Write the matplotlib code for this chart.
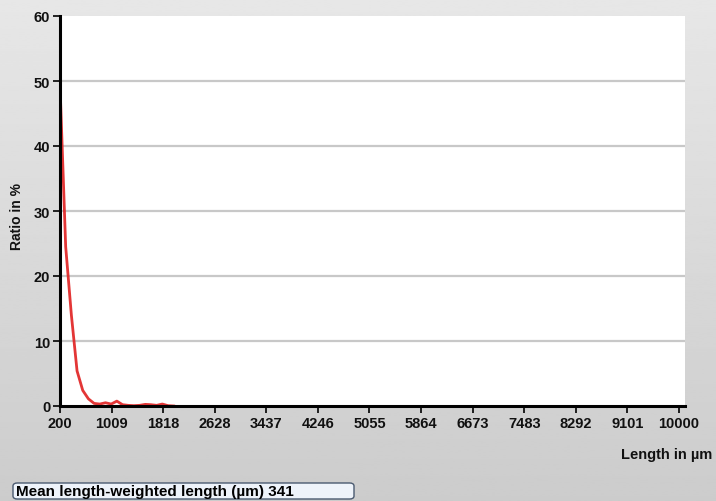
''' Length distribution chart: ratio (%) vs fibre length (um). '''
import numpy as np
import matplotlib
matplotlib.use('Agg')
import matplotlib.pyplot as plt
from matplotlib.patches import FancyBboxPatch

# ---------------- data ----------------
lengths = [210, 290, 380, 470, 560, 650, 740, 830, 920, 1010, 1100, 1190,
           1280, 1370, 1460, 1550, 1640, 1730, 1820, 1910, 2000]
ratio = [46.6, 24.5, 14.0, 5.4, 2.4, 1.1, 0.4, 0.3, 0.5, 0.3, 0.75, 0.2,
         0.1, 0.05, 0.1, 0.25, 0.2, 0.1, 0.3, 0.05, 0.0]
tick_labels = ['200', '1009', '1818', '2628', '3437', '4246', '5055', '5864',
               '6673', '7483', '8292', '9101', '10000']
y_ticks = [0, 10, 20, 30, 40, 50, 60]
mean_weighted = 341

plt.rcParams['font.family'] = ['Liberation Sans', 'DejaVu Sans']
plt.rcParams['font.weight'] = 'bold'

W, H = 716, 502
fig = plt.figure(figsize=(W / 100, H / 100), dpi=100)

# gray gradient background
bg = fig.add_axes([0, 0, 1, 1], zorder=-10)
grad = np.linspace(0.905, 0.80, 256).reshape(-1, 1)
bg.imshow(grad, aspect='auto', cmap='gray', vmin=0, vmax=1,
          extent=[0, 1, 0, 1], origin='upper')
bg.set_axis_off()

ax = fig.add_axes([60 / W, (H - 407) / H, (685 - 60) / W, (407 - 17) / H])
ax.set_facecolor('white')

tick_pos = np.linspace(200, 10000, len(tick_labels))
px_per_um = (679 - 60.5) / 9800
ax.set_xlim(200, 10000 + 6 / px_per_um)
ax.set_ylim(0, 60)

for y in y_ticks[1:-1]:
    ax.axhline(y, color='#c8c8c8', lw=1.6, zorder=1)

ax.plot(lengths, ratio, color='#e02020', lw=2.0, alpha=0.9, zorder=3,
        solid_joinstyle='round', clip_on=True)

ax.set_xticks(tick_pos)
ax.set_xticklabels(tick_labels)
ax.set_yticks(y_ticks)
ax.tick_params(axis='both', direction='out', length=5, width=1.2,
               color='black', labelsize=10.5, pad=2)
for lab in ax.get_xticklabels() + ax.get_yticklabels():
    lab.set_fontweight('bold')
    lab.set_color('#111111')

for side in ('top', 'right'):
    ax.spines[side].set_visible(False)
for side in ('left', 'bottom'):
    ax.spines[side].set_linewidth(2.2)
    ax.spines[side].set_color('black')
    ax.spines[side].set_zorder(5)

fig.text(17 / W, 1 - 217 / H, 'Ratio in %', rotation=90, ha='center',
         va='center', fontsize=10, fontweight='bold', color='#111111')
fig.text(712 / W, 1 - 455 / H, 'Length in µm', ha='right', va='center',
         fontsize=10.5, fontweight='bold', color='#111111')

# summary box at the bottom
box = FancyBboxPatch((13 / W, 1 - 500 / H), (354 - 13) / W, 16 / H,
                     boxstyle='round,pad=0,rounding_size=0.006',
                     transform=fig.transFigure, facecolor='#eef3fa',
                     edgecolor='#4a5a70', lw=1.0, zorder=2)
fig.patches.append(box)
fig.text(16 / W, 1 - 492 / H,
         'Mean length-weighted length (µm) %d' % mean_weighted,
         ha='left', va='center', fontsize=11, fontweight='bold',
         color='black', zorder=3)

fig.savefig('out.png', dpi=100)
